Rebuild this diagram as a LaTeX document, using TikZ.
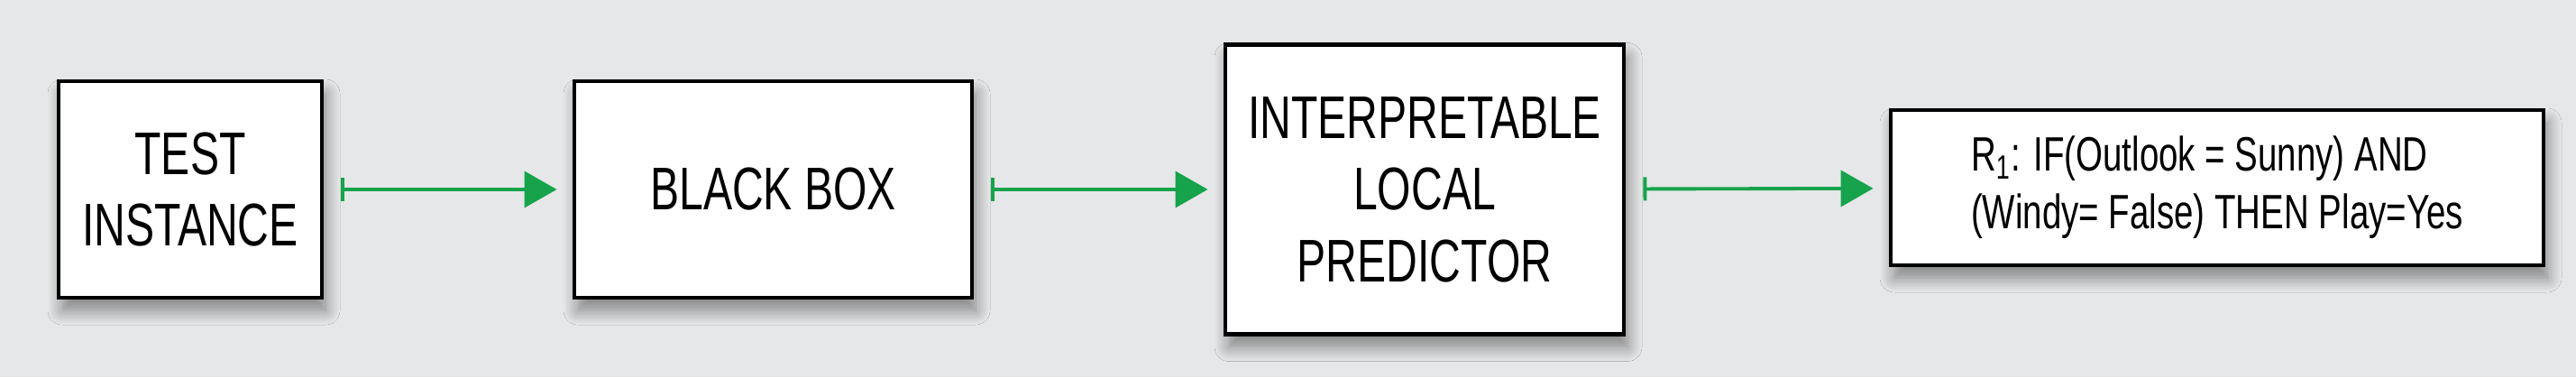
\documentclass[tikz,border=0pt]{standalone}
\usepackage{fontspec}
\setmainfont{Liberation Sans}[FakeStretch=0.72]
\usepackage{xcolor}
\usepackage{tikz}
\usetikzlibrary{arrows.meta}
\usetikzlibrary{shadows.blur}
\usetikzlibrary{positioning}
\definecolor{bggray}{RGB}{230,231,232}
\definecolor{flowgreen}{RGB}{22,163,76}
\tikzset{
    stagebox/.style = {rectangle, draw=black, line width=1.4pt, fill=white, align=center,
        font=\fontsize{19}{22.6}\selectfont, inner sep=0pt,
        blur shadow={shadow xshift=0.04cm, shadow yshift=-0.14cm, shadow blur radius=0.16cm, shadow blur steps=12, shadow opacity=45}},
    rulebox/.style = {stagebox, align=left, font=\fontsize{15.2}{18.2}\selectfont},
}

\begin{document}
\begin{tikzpicture}[
	thick
]
\tikzset{
    flow/.style = {{Bar[width=0.26cm,line width=1.1pt]}-{Triangle[length=0.36cm,width=0.40cm]}, line width=1.1pt, flowgreen, shorten <=0.19cm, shorten >=0.17cm},
}
\fill[bggray] (0,0) rectangle (28.57,4.18);
\useasboundingbox (0,0) rectangle (28.57,4.18);
\node[stagebox, minimum width=2.92cm, minimum height=2.40cm] at (2.11,2.08) (test) {TEST\\INSTANCE};
\node[stagebox, minimum width=4.41cm, minimum height=2.40cm] at (8.575,2.08) (blackbox) {BLACK BOX};
\node[stagebox, minimum width=4.42cm, minimum height=3.21cm] at (15.80,2.08) (local) {INTERPRETABLE\\LOCAL\\PREDICTOR};
\node[rulebox, minimum width=7.24cm, minimum height=1.72cm] at (24.59,2.10) (rule) {R\textsubscript{1}: IF(Outlook = Sunny) AND\\(Windy= False) THEN Play=Yes};
%
\draw[flow] (test) -- (blackbox);
\draw[flow] (blackbox) -- (local);
\draw[flow] (local) -- (rule);
\end{tikzpicture}
\end{document}
